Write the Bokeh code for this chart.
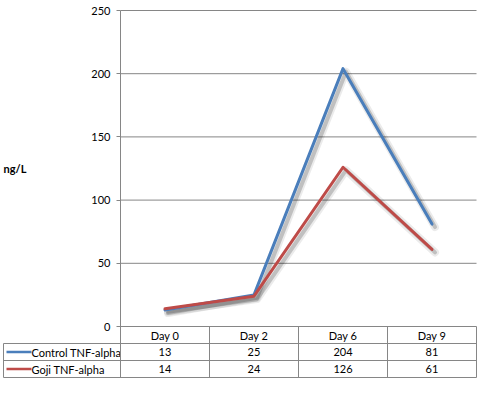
from bokeh.plotting import figure
from bokeh.models import ColumnDataSource, Range1d, LinearAxis, FixedTicker, Label
from bokeh.transform import dodge
from bokeh.core.properties import value
from bokeh.embed import file_html
from bokeh.resources import INLINE

# ---- data ----
days = ["Day 0", "Day 2", "Day 6", "Day 9"]
control = [13, 25, 204, 81]
goji = [14, 24, 126, 61]
series_names = ["Control TNF-alpha", "Goji TNF-alpha"]
series_colors = ["#4A7EBB", "#BE4B48"]
yticks = [0, 50, 100, 150, 200, 250]
y_label = "ng/L"

# ---- layout (pixels) ----
W, H = 478, 378
axis_px = 120          # canvas x of the value axis
col_px = 89            # width of one category column
top_px = 10            # canvas y of top tick
zero_px = 326          # canvas y of zero
row_px = 17            # table row height
left_px = 3            # table left edge
ymax = yticks[-1]
k = (zero_px - top_px) / ymax   # px per unit


def cx(px):
    return (px - axis_px) / col_px


def cy(px):
    return (zero_px - px) / k


n = len(days)
xs = [i + 0.5 for i in range(n)]
rh = row_px / k
yb = -3 * rh
xl = cx(left_px)

p = figure(width=W, height=H, output_backend="svg", toolbar_location=None,
           x_axis_location=None, y_axis_location=None,
           x_range=Range1d(cx(0), cx(W)), y_range=Range1d(cy(H), cy(0)),
           min_border=0, outline_line_color=None)
p.xgrid.visible = False
p.ygrid.visible = False
p.background_fill_color = "white"

grid_col = "#868686"
font = value("Lato")

# value axis inside the frame
yaxis = LinearAxis(fixed_location=0, ticker=FixedTicker(ticks=yticks),
                   bounds=(yb, ymax), axis_line_color=grid_col,
                   major_tick_line_color=grid_col, major_tick_out=4, major_tick_in=0,
                   minor_tick_line_color=None, major_label_standoff=6,
                   major_label_text_font="Lato", major_label_text_font_size="11px",
                   major_label_text_color="black")
p.add_layout(yaxis, "left")

# gridlines
p.segment(x0=[0] * len(yticks), x1=[n] * len(yticks), y0=yticks, y1=yticks,
          line_color=grid_col, line_width=1)

# data lines with shadows
src = ColumnDataSource(dict(x=xs, c=control, g=goji))
dx, dy = 3 / col_px, -3 / k
for f in ["c", "g"]:
    p.line(x=dodge("x", dx), y=dodge(f, dy), source=src, line_color="black",
           line_alpha=0.08, line_width=8, line_join="round", line_cap="round")
    p.line(x=dodge("x", dx), y=dodge(f, dy), source=src, line_color="black",
           line_alpha=0.18, line_width=4, line_join="round", line_cap="round")
for f, col in zip(["c", "g"], series_colors):
    p.line(x="x", y=f, source=src, line_color=col, line_width=3,
           line_join="round", line_cap="round")

# data table
for i in range(1, 4):
    p.segment(x0=[xl], x1=[n], y0=[-i * rh], y1=[-i * rh], line_color=grid_col, line_width=1)
p.segment(x0=list(range(1, n + 1)), x1=list(range(1, n + 1)), y0=[0] * n, y1=[yb] * n,
          line_color=grid_col, line_width=1)
p.segment(x0=[xl], x1=[xl], y0=[-rh], y1=[yb], line_color=grid_col, line_width=1)

p.text(x=xs, y=[-0.5 * rh] * n, text=days, text_font=font, text_font_size="11px",
       text_align="center", text_baseline="middle", text_color="black")
for r, (vals, name, col) in enumerate(zip([control, goji], series_names, series_colors)):
    yc = -(r + 1.5) * rh
    p.text(x=xs, y=[yc] * n, text=[str(v) for v in vals], text_font=font,
           text_font_size="11px", text_align="center", text_baseline="middle",
           text_color="black")
    p.segment(x0=[cx(6)], x1=[cx(31)], y0=[yc], y1=[yc], line_color=col, line_width=2.5)
    p.text(x=[cx(31)], y=[yc], text=[name], text_font=font, text_font_size="11px",
           text_align="left", text_baseline="middle", text_color="black")

p.add_layout(Label(x=cx(3), y=ymax / 2, text=y_label, text_font="Lato",
                   text_font_size="11px", text_font_style="bold",
                   text_baseline="middle", text_align="left", text_color="black"))

open("out.html", "w").write(file_html(p, INLINE))
